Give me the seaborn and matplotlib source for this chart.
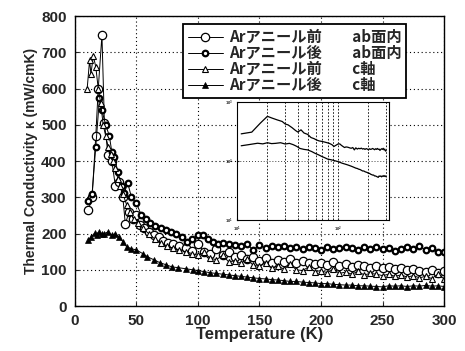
import numpy as np
import pandas as pd
import matplotlib
matplotlib.use("Agg")
import matplotlib.pyplot as plt
from matplotlib.ticker import LogLocator, NullFormatter
import seaborn as sns

# ── Data ──────────────────────────────────────────────────────────────
labels = [
    "Arアニール前\u3000\u3000ab面内",
    "Arアニール後\u3000\u3000ab面内",
    "Arアニール前\u3000\u3000c軸",
    "Arアニール後\u3000\u3000c軸",
]

t_ab_before = [11, 14, 17, 19, 22, 24, 27, 30, 33, 36, 39, 41, 44, 47, 50,
               53, 56, 60, 64, 68, 72, 76, 80, 85, 90, 95, 100, 105, 110,
               115, 120, 125, 130, 135, 140, 145, 150, 155, 160, 165, 170,
               175, 180, 185, 190, 195, 200, 205, 210, 215, 220, 225, 230,
               235, 240, 245, 250, 255, 260, 265, 270, 275, 280, 285, 290,
               295, 300]
k_ab_before = [265, 300, 470, 600, 748, 505, 417, 400, 330, 343, 300, 226,
               260, 240, 250, 225, 215, 205, 195, 190, 180, 175, 170, 165,
               160, 152, 170, 150, 145, 158, 140, 150, 135, 140, 130, 135,
               125, 132, 120, 128, 122, 130, 118, 125, 120, 115, 118, 112,
               122, 110, 115, 108, 112, 110, 106, 110, 104, 108, 102, 104,
               100, 103, 98, 95, 100, 92, 98]

t_ab_after = [11, 14, 17, 20, 22, 25, 28, 30, 32, 35, 38, 40, 43, 46, 50,
              54, 58, 61, 65, 70, 74, 78, 82, 87, 91, 95, 100, 104, 108,
              112, 116, 120, 125, 130, 135, 140, 145, 150, 155, 160, 165,
              170, 175, 180, 185, 190, 195, 200, 205, 210, 215, 220, 225,
              230, 235, 240, 245, 250, 255, 260, 265, 270, 275, 280, 285,
              290, 295, 300]
k_ab_after = [290, 310, 440, 575, 540, 500, 470, 426, 412, 370, 330, 311,
              339, 300, 284, 251, 240, 229, 220, 215, 210, 205, 200, 190,
              177, 185, 195, 196, 185, 177, 170, 174, 172, 168, 165, 170,
              155, 168, 160, 165, 162, 166, 160, 163, 158, 163, 160, 155,
              162, 158, 160, 164, 160, 156, 162, 158, 164, 158, 160, 152,
              158, 162, 158, 165, 155, 160, 148, 150]

t_c_before = [10, 12, 13, 15, 17, 19, 21, 23, 25, 27, 29, 31, 33, 35, 37,
              39, 42, 45, 48, 51, 55, 60, 65, 70, 75, 80, 85, 90, 95, 100,
              105, 110, 115, 120, 125, 130, 135, 140, 145, 150, 155, 160,
              165, 170, 175, 180, 185, 190, 195, 200, 205, 210, 215, 220,
              225, 230, 235, 240, 245, 250, 255, 260, 265, 270, 275, 280,
              285, 290, 295, 300]
k_c_before = [600, 680, 640, 690, 660, 600, 560, 500, 470, 440, 420, 400,
              380, 350, 330, 310, 280, 260, 240, 230, 215, 200, 185, 175,
              165, 160, 155, 150, 145, 140, 148, 132, 128, 140, 122, 125,
              118, 130, 112, 110, 120, 105, 110, 102, 115, 100, 98, 108,
              95, 98, 92, 102, 90, 94, 88, 96, 86, 90, 88, 84, 88, 82, 86,
              80, 84, 78, 82, 76, 88, 75]

t_c_after = [11, 13, 16, 18, 20, 22, 24, 27, 30, 33, 36, 39, 42, 46, 50,
             55, 59, 64, 69, 74, 79, 84, 90, 96, 100, 105, 110, 115, 120,
             125, 130, 135, 140, 145, 150, 155, 160, 165, 170, 175, 180,
             185, 190, 195, 200, 205, 210, 215, 220, 225, 230, 235, 240,
             245, 250, 255, 260, 265, 270, 275, 280, 285, 290, 295, 300]
k_c_after = [182, 190, 201, 196, 205, 198, 200, 205, 195, 200, 190, 178,
             164, 158, 155, 145, 136, 128, 120, 114, 108, 106, 103, 100,
             98, 95, 92, 90, 88, 86, 84, 82, 80, 78, 76, 75, 73, 72, 70,
             68, 68, 66, 65, 64, 62, 62, 60, 59, 58, 58, 56, 56, 55, 54,
             53, 56, 55, 56, 54, 56, 55, 57, 55, 56, 54]

x_ticks = [0, 50, 100, 150, 200, 250, 300]
y_ticks = [0, 100, 200, 300, 400, 500, 600, 700, 800]

# ── Style ─────────────────────────────────────────────────────────────
sns.set_style("ticks")
plt.rcParams["font.family"] = ["Liberation Sans", "Noto Sans CJK JP", "DejaVu Sans"]
plt.rcParams["font.weight"] = "bold"

series = [
    (t_ab_before, k_ab_before, dict(marker="o", markersize=6, markerfacecolor="white",
                                    markeredgecolor="black", markeredgewidth=0.9)),
    (t_ab_after, k_ab_after, dict(marker="o", markersize=4, markerfacecolor="white",
                                  markeredgecolor="black", markeredgewidth=1.6)),
    (t_c_before, k_c_before, dict(marker="^", markersize=5, markerfacecolor="white",
                                  markeredgecolor="black", markeredgewidth=0.8)),
    (t_c_after, k_c_after, dict(marker="^", markersize=4, markerfacecolor="black",
                                markeredgecolor="black", markeredgewidth=0.5)),
]

fig = plt.figure(figsize=(4.65, 3.51), dpi=100)
ax = fig.add_axes([0.161, 0.128, 0.794, 0.826])

for (t, k, mk), lab in zip(series, labels):
    df = pd.DataFrame({"T": t, "k": k})
    sns.lineplot(data=df, x="T", y="k", ax=ax, color="black", linewidth=0.7,
                 label=lab, **mk)

ax.set_xlim(0, 300)
ax.set_ylim(0, 800)
ax.set_xticks(x_ticks)
ax.set_yticks(y_ticks)
ax.grid(True, linestyle=(0, (1, 2.5)), color="black", linewidth=0.8)
ax.tick_params(direction="in", length=3, labelsize=11, width=0.8)
ax.tick_params(axis="x", pad=6)
ax.tick_params(axis="y", pad=6)
for lab in ax.get_xticklabels() + ax.get_yticklabels():
    lab.set_fontweight("bold")
for s in ax.spines.values():
    s.set_color("black")
    s.set_linewidth(1.0)
ax.set_xlabel("Temperature (K)", fontsize=12, fontweight="bold", labelpad=-1)
ax.set_ylabel("Thermal Conductivity κ (mW/cmK)", fontsize=10, fontweight="bold",
              labelpad=2)

leg = ax.legend(loc="upper left", bbox_to_anchor=(0.272, 0.998), frameon=True,
                fancybox=False, edgecolor="black", framealpha=1,
                handlelength=2.3, handletextpad=0.4, borderpad=0.3,
                labelspacing=0.0,
                prop={"family": ["Noto Sans CJK JP", "DejaVu Sans"],
                      "weight": "bold", "size": 11})
leg.get_frame().set_linewidth(1.3)

# ── Inset: log-log view of the annealed samples ──────────────────────
axin = fig.add_axes([0.5097, 0.373, 0.327, 0.336])
for t, k in [(t_ab_after, k_ab_after), (t_c_after, k_c_after)]:
    sns.lineplot(x=t, y=k, ax=axin, color="black", linewidth=0.9)
axin.set_xscale("log")
axin.set_yscale("log")
axin.set_xlim(10, 320)
axin.set_ylim(10, 1000)
axin.xaxis.set_minor_locator(LogLocator(subs=np.arange(2, 10)))
axin.xaxis.set_minor_formatter(NullFormatter())
axin.yaxis.set_minor_formatter(NullFormatter())
axin.yaxis.set_minor_locator(LogLocator(subs=[]))
axin.grid(True, which="both", axis="x", linestyle=(0, (2, 2)), color="black",
          linewidth=0.6)
axin.grid(True, which="major", axis="y", linestyle=(0, (1, 2.5)), color="black",
          linewidth=0.6)
axin.tick_params(which="both", direction="in", labelsize=3, length=1.5)
axin.tick_params(axis="x", pad=3)
axin.tick_params(axis="y", pad=3)
for s in axin.spines.values():
    s.set_color("black")
    s.set_linewidth(0.8)
axin.set_xlabel("")
axin.set_ylabel("")

fig.savefig("out.png", dpi=100)
